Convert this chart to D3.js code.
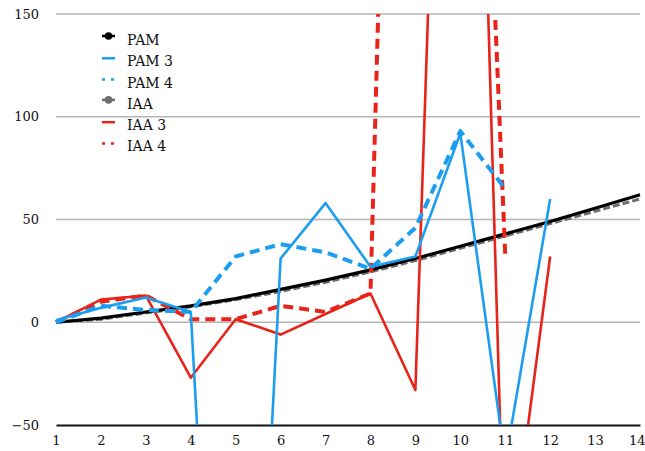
<!DOCTYPE html>
<html>
<head>
<meta charset="utf-8">
<script src="https://cdn.jsdelivr.net/npm/d3@7"></script>
<style>
  body { margin: 0; background: #fff; }
  svg { display: block; }
  svg text { font-family: "DejaVu Serif", "Liberation Serif", serif; }
</style>
</head>
<body>
<div id="chart"></div>
<script>
// Data
const xValues = [1, 2, 3, 4, 5, 6, 7, 8, 9, 10, 11, 12, 13, 14];
const pam  = [0, 2, 5, 8, 11.5, 16, 20.5, 25.5, 31, 37, 43, 49, 55.5, 62];
const pam3 = [1, 7, 12, 5, -390, 31, 58, 27, 32, 92, -68, 60];
const pam4 = [0, 8, 6, 5, 32, 38, 34, 26, 46, 93, 65];
const iaa  = [0, 1.5, 4.5, 7.5, 11, 15, 19.5, 24.5, 30, 36, 42, 48, 54, 60];
const iaa3 = [0, 11, 13, -27, 1.5, -6, 4, 14, -33, 618, -135, 32];
const iaa4 = [0, 10, 13, 1.5, 1.5, 8, 5, 14, 805, 550, 33];
const yTicks = [-50, 0, 50, 100, 150];
const seriesNames = ["PAM", "PAM 3", "PAM 4", "IAA", "IAA 3", "IAA 4"];

const width = 645;
const height = 451;
const margin = { top: 14, right: 5, bottom: 26, left: 56 };

const blue = "#1c9ef0";
const red = "#e8241a";

const styles = {
  "PAM":   { values: pam,  color: "#000",    width: 3.2, dash: null,  marker: true },
  "PAM 3": { values: pam3, color: blue,      width: 2.6, dash: null },
  "PAM 4": { values: pam4, color: blue,      width: 4,   dash: "10,6" },
  "IAA":   { values: iaa,  color: "#6e6e6e", width: 3,   dash: "7,3", marker: true },
  "IAA 3": { values: iaa3, color: red,       width: 2.6, dash: null },
  "IAA 4": { values: iaa4, color: red,       width: 4,   dash: "10,6" }
};

const svg = d3.select("#chart")
  .append("svg")
  .attr("width", width)
  .attr("height", height);

const xScale = d3.scaleLinear().domain([1, 14]).range([margin.left, width - margin.right]);
const yScale = d3.scaleLinear().domain([-50, 150]).range([height - margin.bottom, margin.top]);

// grid lines
svg.append("g")
  .selectAll("line")
  .data(yTicks.filter(d => d !== -50))
  .join("line")
  .attr("x1", xScale(1))
  .attr("x2", xScale(14))
  .attr("y1", d => yScale(d))
  .attr("y2", d => yScale(d))
  .attr("stroke", "#b5b5b5")
  .attr("stroke-width", 1.5);

// y labels
const yAxis = svg.append("g")
  .attr("transform", `translate(${margin.left},0)`)
  .call(d3.axisLeft(yScale).tickValues(yTicks).tickSize(0).tickPadding(17));
yAxis.attr("font-family", null);
yAxis.select(".domain").remove();
yAxis.selectAll("text")
  .attr("font-size", 13)
  .attr("fill", "#111");

// x axis
const xAxis = svg.append("g")
  .attr("transform", `translate(0,${yScale(-50)})`)
  .call(d3.axisBottom(xScale).tickValues(xValues).tickFormat(d3.format("d")).tickSize(0).tickPadding(11));
xAxis.attr("font-family", null);
xAxis.select(".domain")
  .attr("stroke", "#111")
  .attr("stroke-width", 2);
xAxis.selectAll("text")
  .attr("font-size", 13)
  .attr("fill", "#111")
  .attr("text-anchor", d => d === 14 ? "end" : "middle")
  .attr("x", d => d === 14 ? 5 : 0);

// clip to plot area
svg.append("clipPath")
  .attr("id", "plot-clip")
  .append("rect")
  .attr("x", margin.left - 6)
  .attr("y", yScale(150))
  .attr("width", width - margin.left + 6)
  .attr("height", yScale(-50) - yScale(150));

const line = d3.line()
  .defined(d => d[1] != null)
  .x(d => xScale(d[0]))
  .y(d => yScale(d[1]));

const plot = svg.append("g").attr("clip-path", "url(#plot-clip)");

const drawOrder = ["IAA", "PAM", "IAA 3", "IAA 4", "PAM 3", "PAM 4"];
drawOrder.forEach(name => {
  const s = styles[name];
  const pts = s.values.map((v, i) => [xValues[i], v]);
  plot.append("path")
    .datum(pts)
    .attr("d", line)
    .attr("fill", "none")
    .attr("stroke", s.color)
    .attr("stroke-width", s.width)
    .attr("stroke-dasharray", s.dash)
    .attr("stroke-linejoin", "round");
});

// legend
const legend = svg.append("g").attr("transform", "translate(102,40)");
seriesNames.forEach((name, i) => {
  const s = styles[name];
  const g = legend.append("g").attr("transform", `translate(0,${i * 21.3})`);
  if (s.marker) {
    g.append("line")
      .attr("x1", 0).attr("x2", 13).attr("y1", -4).attr("y2", -4)
      .attr("stroke", s.color).attr("stroke-width", 2.5);
    g.append("circle")
      .attr("cx", 6.5).attr("cy", -4).attr("r", 3.8)
      .attr("fill", s.color);
  } else if (s.dash) {
    g.append("line")
      .attr("x1", 0).attr("x2", 13).attr("y1", -3).attr("y2", -3)
      .attr("stroke", s.color).attr("stroke-width", 2.5)
      .attr("stroke-dasharray", "3,6");
  } else {
    g.append("line")
      .attr("x1", 0).attr("x2", 13).attr("y1", -3).attr("y2", -3)
      .attr("stroke", s.color).attr("stroke-width", 2.5);
  }
  g.append("text")
    .attr("x", 25)
    .attr("y", 0)
    .attr("dy", "0.35em")
    .attr("font-size", 14)
    .attr("fill", "#111")
    .text(name);
});
</script>
</body>
</html>
